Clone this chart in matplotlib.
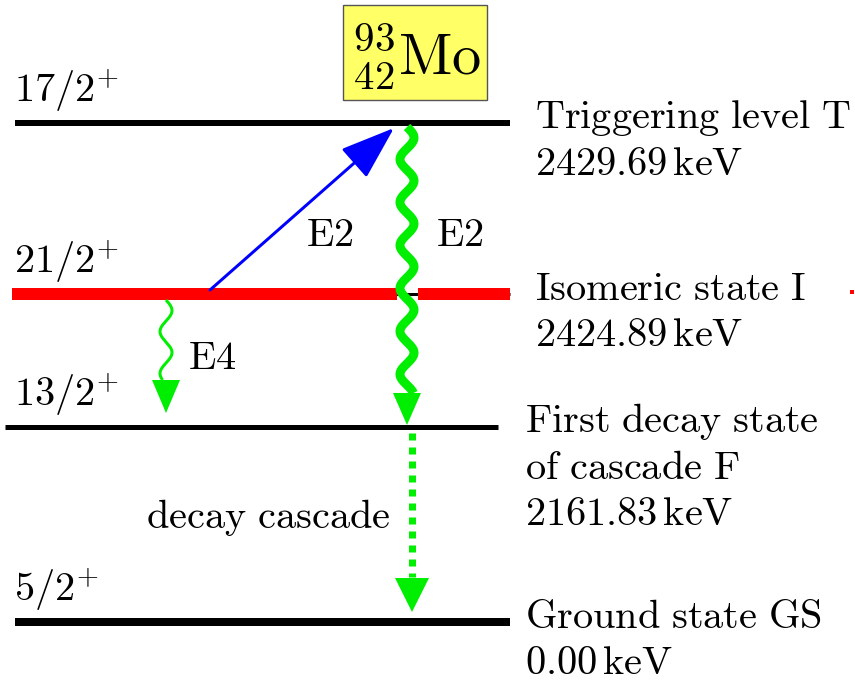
import numpy as np
import matplotlib
matplotlib.use("Agg")
import matplotlib.pyplot as plt
from matplotlib.patches import FancyArrowPatch, Rectangle

plt.rcParams['mathtext.fontset'] = 'cm'

# ---- data ----
spins = [r"17/2^{{+}}", r"21/2^{{+}}", r"13/2^{{+}}", r"5/2^{{+}}"]
names = [["Triggering level T"], ["Isomeric state I"],
         ["First decay state", "of cascade F"], ["Ground state GS"]]
energies = ["2429.69", "2424.89", "2161.83", "0.00"]
transitions = ["E2", "E2", "E4", "decay cascade"]

# ---- layout (pixels) ----
W, H = 855, 686
level_y = [123, 294, 427, 622]
level_x = [(15, 510), (12, 510), (5, 498), (15, 510)]
level_lw = [6, 12, 5, 8]
level_col = ['black', 'red', 'black', 'black']
label_x = [535, 535, 525, 525]

fig = plt.figure(figsize=(W/100, H/100), dpi=100)
ax = fig.add_axes([0, 0, 1, 1])
ax.set_xlim(0, W)
ax.set_ylim(H, 0)
ax.axis('off')

PT = 0.72  # px -> pt
FS = 29

def mt(s):
    return r"$\mathrm{" + s.replace(" ", r"\ ") + "}$"

for i in range(4):
    x0, x1 = level_x[i]
    y = level_y[i]
    if i == 1:
        ax.plot([x0, x1], [y, y], color='black', lw=3*PT, solid_capstyle='butt', zorder=1)
        ax.plot([x0, 397], [y, y], color='red', lw=level_lw[i]*PT, solid_capstyle='butt', zorder=2)
        ax.plot([418, x1], [y, y], color='red', lw=level_lw[i]*PT, solid_capstyle='butt', zorder=2)
    else:
        ax.plot([x0, x1], [y, y], color=level_col[i], lw=level_lw[i]*PT, solid_capstyle='butt', zorder=2)
    ax.text(14, y - 9, "$" + spins[i] + "$", fontsize=FS, ha='left', va='bottom')
    lines = names[i] + [energies[i] + r"\,keV"]
    for j, s in enumerate(lines):
        yy = y - 5 + j * 46
        ax.text(label_x[i], yy, mt(s), fontsize=FS, ha='left', va='center')

# tiny red dot at far right
ax.plot([852], [292], marker='s', ms=4*PT, color='red', mew=0)

# nucleus box
ax.add_patch(Rectangle((343, 5), 144, 95, facecolor='#ffff66', edgecolor='#555555', lw=1, zorder=3))
ax.text(416, 57, r"${}^{93}_{42}\mathrm{Mo}$", fontsize=42, ha='center', va='center', zorder=4)

# blue E2 excitation arrow
ax.add_patch(FancyArrowPatch((210, level_y[1] - 4), (394, level_y[0] + 5),
                             arrowstyle='-|>,head_length=1.7,head_width=0.6',
                             mutation_scale=20, color='blue', lw=3*PT, zorder=5,
                             shrinkA=0, shrinkB=0))
ax.text(330, 235, mt(transitions[0]), fontsize=FS, ha='center', va='center')

def wavy(x, y0, y1, amp, period, lw, head_len, head_w, hx=None):
    hx = x if hx is None else hx
    ys = np.linspace(y0, y1 - head_len, 400)
    xs = x + amp * np.sin(2 * np.pi * (ys - y0) / period)
    ax.plot(xs, ys, color='#00ee00', lw=lw*PT, solid_capstyle='butt', zorder=6)
    ax.fill([hx - head_w/2, hx + head_w/2, hx], [y1 - head_len, y1 - head_len, y1],
            color='#00ee00', lw=0, zorder=6)

# green E2 decay
wavy(407, level_y[0] + 4, level_y[2] - 2, 7, 43, 9, 32, 28)
ax.text(460, 235, mt(transitions[1]), fontsize=FS, ha='center', va='center')

# green E4 decay
wavy(166, level_y[1] + 6, 413, 6, 42, 3, 33, 28)
ax.text(212, 358, mt(transitions[2]), fontsize=FS, ha='center', va='center')

# decay cascade dotted
ax.plot([412, 412], [433, 577], color='#00ee00', lw=7*PT, ls=(0, (1, 1.0)), zorder=6)
ax.fill([395, 429, 412], [578, 578, 612], color='#00ee00', lw=0, zorder=6)
ax.text(268, 517, mt(transitions[3]), fontsize=FS, ha='center', va='center')

fig.savefig("out.png", dpi=100)
